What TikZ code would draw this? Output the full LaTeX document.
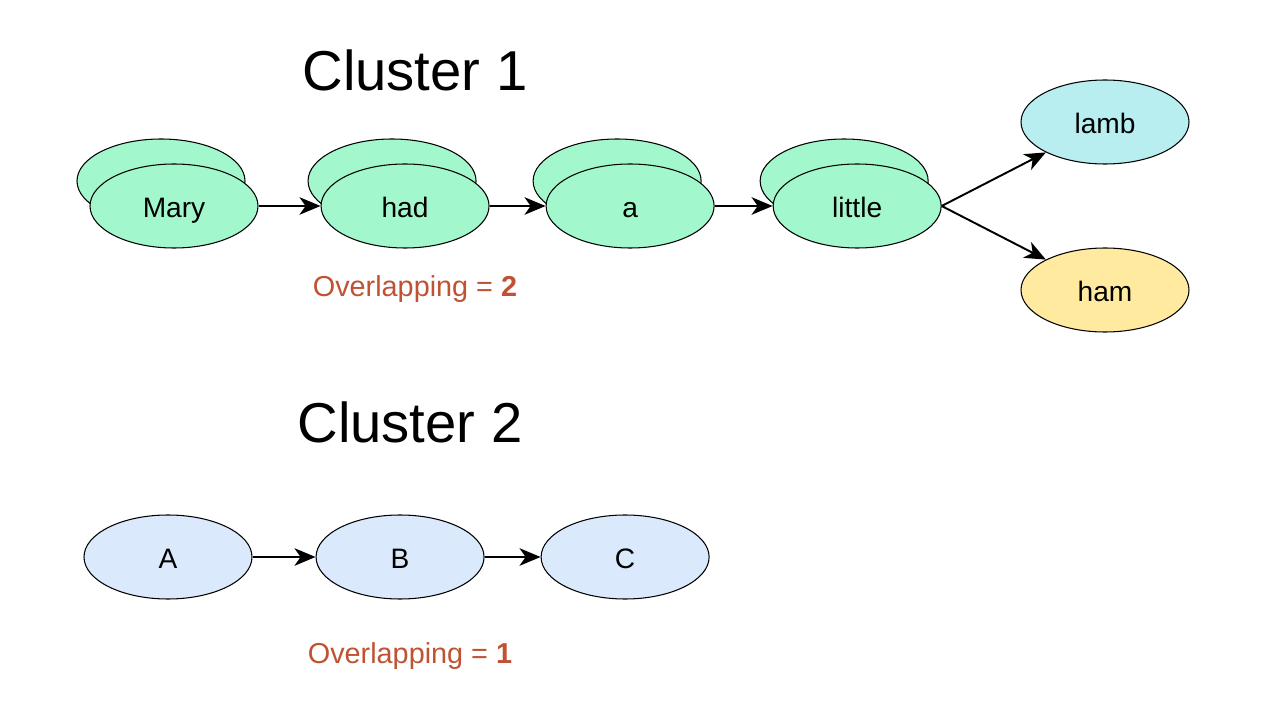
\documentclass[tikz,border=0pt]{standalone}
\usepackage{fontspec}
\setmainfont{Liberation Sans}
\usetikzlibrary{arrows.meta,positioning,calc,shapes.geometric}
\definecolor{mint}{RGB}{163,247,204}
\definecolor{aqua}{RGB}{184,238,240}
\definecolor{sand}{RGB}{255,234,160}
\definecolor{sky}{RGB}{218,234,252}
\definecolor{rust}{RGB}{192,82,52}

\begin{document}
\begin{tikzpicture}[
        node distance=1.2cm,
        word/.style={draw, ellipse, line width=0.6pt, minimum width=3.36cm, minimum height=1.68cm, inner sep=0pt, text height=1.3em, text depth=0pt, font=\fontsize{16}{19}\selectfont},
        title/.style={font=\fontsize{32}{38}\selectfont},
        overlap/.style={text=rust, font=\fontsize{16.4}{19}\selectfont},
        arr/.style={-{Stealth[length=12pt, width=10pt, inset=3.5pt]}, line width=1.1pt}
    ]
        \useasboundingbox (0,0) rectangle (25.3,14.48);

        \node[title] (c1) at (8.3,13.08) {Cluster 1};

        % stacked words, back copies first
        \node[word, fill=mint] (maryb) at (3.22,10.86) {};
        \node[word, fill=mint, right=1.24cm of maryb] (hadb) {};
        \node[word, fill=mint, right=1.12cm of hadb] (ab) {};
        \node[word, fill=mint, right=1.16cm of ab] (littleb) {};

        \node[word, fill=mint] at ($(maryb)+(0.26,-0.5)$) (mary) {Mary};
        \node[word, fill=mint] at ($(hadb)+(0.26,-0.5)$) (had) {had};
        \node[word, fill=mint] at ($(ab)+(0.26,-0.5)$) (a) {a};
        \node[word, fill=mint] at ($(littleb)+(0.26,-0.5)$) (little) {little};

        \node[word, fill=aqua] (lamb) at (22.1,12.04) {lamb};
        \node[word, fill=sand] (ham) at (22.1,8.68) {ham};

        \node[overlap] (ov1) at (8.3,8.7) {Overlapping = \textbf{2}};

        \draw[arr] (mary) -- (had);
        \draw[arr] (had) -- (a);
        \draw[arr] (a) -- (little);
        \draw[arr] (little.east) -- (lamb);
        \draw[arr] (little.east) -- (ham);

        \node[title] (c2) at (8.2,6.04) {Cluster 2};

        \node[word, fill=sky] (nA) at (3.36,3.34) {A};
        \node[word, fill=sky, right=1.26cm of nA] (nB) {B};
        \node[word, fill=sky, right=1.12cm of nB] (nC) {C};

        \node[overlap] (ov2) at (8.2,1.36) {Overlapping = \textbf{1}};

        \draw[arr] (nA) -- (nB);
        \draw[arr] (nB) -- (nC);
    \end{tikzpicture}
\end{document}
